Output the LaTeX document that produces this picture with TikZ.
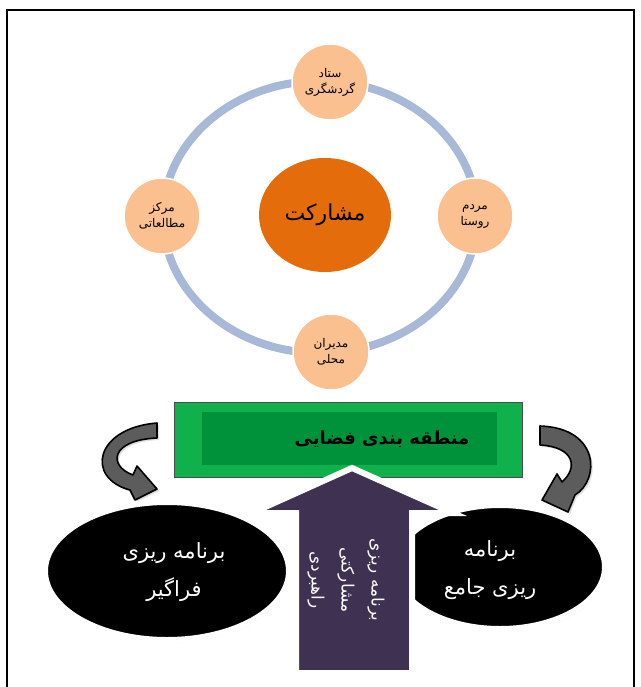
\documentclass[tikz,border=0pt]{standalone}
\usepackage{fontspec}
\usetikzlibrary{shapes.geometric,shadows}
\TeXXeTstate=1
\newfontfamily\fa[Script=Arabic]{DejaVu Sans}
\definecolor{ringc}{RGB}{167,185,214}
\definecolor{peach}{RGB}{250,192,144}
\definecolor{orng}{RGB}{228,108,10}
\definecolor{gout}{RGB}{16,176,76}
\definecolor{gin}{RGB}{0,146,58}
\definecolor{purp}{RGB}{63,49,81}
\definecolor{curvg}{RGB}{92,92,92}
\newcommand\RL[1]{\beginR #1\endR}
\begin{document}
\begin{tikzpicture}[x=1pt,y=-1pt,
  small/.style={circle,fill=peach,draw=white,line width=1.5,minimum size=76,inner sep=0,
    align=center,font=\fa\fontsize{12}{16}\selectfont},
  blackell/.style={ellipse,fill=black,draw=white,line width=6,inner sep=0,
    drop shadow={fill=black!20,shadow xshift=1.5pt,shadow yshift=-2.5pt}},
  ell text/.style={text=white,align=center,font=\fa\fontsize{21}{38}\selectfont},
  curv/.style={fill=curvg,draw=black,line width=1.6,line join=round,
    drop shadow={fill=black!25,shadow xshift=2pt,shadow yshift=-2pt}},
  ring/.style={draw=ringc,line width=8}]
\useasboundingbox (0,0) rectangle (640,687);
\clip (0,0) rectangle (640,687);
% frame
\draw[line width=2.5] (7,700) |- (634,10) -- (634,700);
% ring
\draw[ring] (320,217) ellipse [x radius=157, y radius=136];
% center
\node[ellipse,fill=orng,minimum width=132,minimum height=114,inner sep=0,
  font=\fa\fontsize{22}{26}\selectfont] (part) at (325,215) {\RL{مشارکت}};
% four actors
\node[small] (top) at (330,82) {\RL{ستاد}\\\RL{گردشگری}};
\node[small] (lft) at (162,216) {\RL{مرکز}\\\RL{مطالعاتی}};
\node[small] (rgt) at (475,216) {\RL{مردم}\\\RL{روستا}};
\node[small] (bot) at (331,352) {\RL{مدیران}\\\RL{محلی}};
% green box
\node[fill=gout,draw=black!70,line width=0.8,minimum width=348,minimum height=75,inner sep=0] (zone) at (348,439.5) {};
\node[fill=gin,minimum width=295,minimum height=53,inner sep=0] (zonein) at (349.5,438.5) {};
\node[font=\fa\bfseries\fontsize{18}{22}\selectfont] (zonetxt) at (382,439) {\RL{منطقه بندی فضایی}};
% curved arrows
\draw[curv] (157,423) .. controls (95,428) and (85,478) .. (130,490) -- (135,500) -- (157,489)
  -- (137,466) -- (133,475) .. controls (108,466) and (110,440) .. (157,438) -- cycle;
\draw[curv] (540,426) .. controls (600,428) and (600,480) .. (575,495) -- (568,512) -- (542,500)
  -- (557,474) -- (562,482) .. controls (578,468) and (575,447) .. (540,445) -- cycle;
% black ellipses
\node[blackell,minimum width=244,minimum height=138] (fara) at (167,571) {};
\node[ell text] (faratxt) at (174,572) {\RL{برنامه ریزی}\\\RL{فراگیر}};
\node[blackell,minimum width=210,minimum height=124] (jame) at (500,567) {};
\node[ell text] (jametxt) at (490,570) {\RL{برنامه}\\\RL{ریزی جامع}};
% purple arrow
\draw[fill=purp,draw=white,line width=6,line join=miter,
  drop shadow={fill=black!20,shadow xshift=2pt,shadow yshift=-2pt}]
  (352,468) -- (453,513) -- (412,513) -- (412,673) -- (296,673) -- (296,513) -- (252,513) -- cycle;
\node[rotate=-90,text=white,align=center,font=\fa\fontsize{17}{30}\selectfont] (strat) at (346,580)
  {\RL{برنامه ریزی}\\\RL{مشارکتی}\\\RL{راهبردی}};
\end{tikzpicture}
\end{document}
